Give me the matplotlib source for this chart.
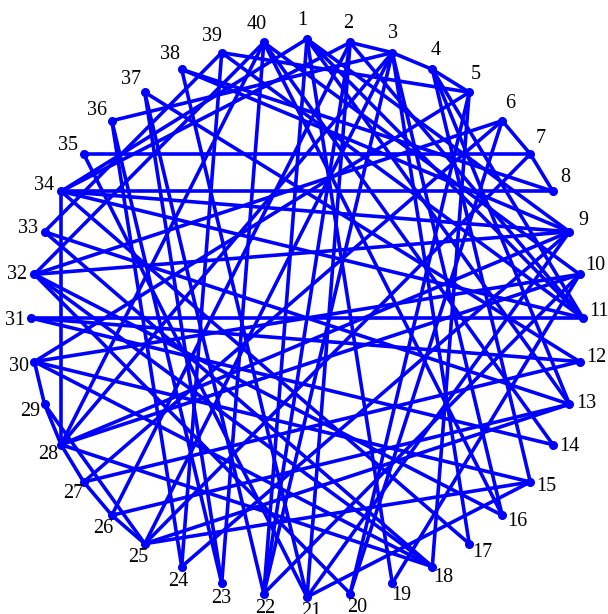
# circular graph: 40 nodes on a ring, undirected edges drawn as straight chords

import matplotlib
matplotlib.use('AGG')
import matplotlib.pyplot as plt
import numpy as np

#%% data
node_ids = list(range(1, 41))

# edge list (node i, node j)
edge_from = [1, 1, 1, 1, 1, 1,
             2, 2, 2, 2, 2, 2,
             3, 3, 3, 3, 3, 3, 3,
             4, 4, 4, 4,
             5, 5, 5, 5,
             6, 6, 6, 6,
             7, 7, 7,
             8, 8,
             9, 9, 9, 9, 9, 9,
             10, 10, 10, 10, 10,
             11, 11,
             12, 12, 12,
             13, 13, 13,
             14, 14,
             15, 15, 15,
             16, 16,
             17, 18, 18, 18, 18, 20, 21, 21, 22, 23, 23, 23, 24, 24,
             25, 25, 26, 27, 28, 28, 28, 29, 32, 33, 39]
edge_to   = [22, 19, 11, 9, 13, 34,
             34, 22, 11, 26, 21, 3,
             4, 25, 17, 36, 22, 28, 16,
             5, 15, 13, 11,
             39, 20, 30, 18,
             7, 27, 20, 32,
             8, 35, 25,
             38, 34,
             34, 32, 28, 21, 24, 38,
             22, 40, 28, 30, 19,
             31, 34,
             31, 27, 37,
             26, 25, 33,
             40, 31,
             25, 30, 21,
             40, 32,
             34, 28, 33, 30, 32, 32, 38, 35, 37, 36, 40, 37, 36, 39,
             26, 29, 27, 28, 29, 34, 40, 30, 40, 39, 11]

#%% geometry: node k sits at angle 90 - 9*(k-1) degrees on the unit circle
theta = np.deg2rad(90 - 9*(np.array(node_ids) - 1))
xn = np.cos(theta)
yn = np.sin(theta)

#%% make plot
fig = plt.figure(figsize=(6.08, 6.14), dpi=100)
ax = fig.add_axes([0, 0, 1, 1])

for a, b in zip(edge_from, edge_to):
    ax.plot([xn[a-1], xn[b-1]], [yn[a-1], yn[b-1]], color=(0, 0, 1), linewidth=2.6,
            solid_capstyle='round')
ax.plot(xn, yn, 'o', color=(0, 0, 1), markersize=5.5)

# node labels just outside the ring, offset turned a little anticlockwise
phi = theta + np.deg2rad(15)
lx = xn + 17/276*np.cos(phi)
ly = yn + 17/279*np.sin(phi) + 2/279
for k in range(len(node_ids)):
    ax.text(lx[k], ly[k], str(node_ids[k]), fontsize=14.5,
            family='Liberation Serif', ha='center', va='center')

# pixel mapping: ring centre at (307,318), radius ~276 px (x) / 279 px (y)
ax.set_xlim(-307/276, (608-307)/276)
ax.set_ylim(-(614-318)/279, 318/279)
ax.axis('off')

fig.savefig('out.png', dpi=100)
plt.close()
